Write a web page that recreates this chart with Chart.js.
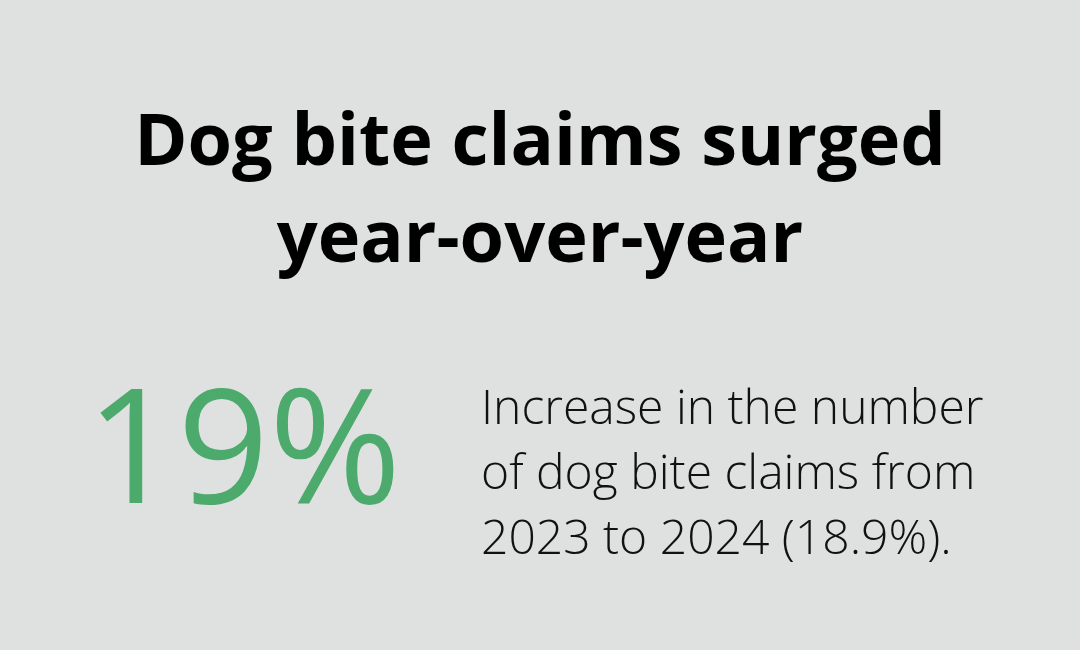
<!DOCTYPE html>
<html>
<head>
<meta charset="utf-8">
<script src="https://cdn.jsdelivr.net/npm/chart.js@4"></script>
<style>
  html, body { margin: 0; padding: 0; background: #dfe1e0; }
  #wrap { width: 1080px; height: 650px; }
</style>
</head>
<body>
<div id="wrap"><canvas id="stat"></canvas></div>
<script>
const titleLines = ['Dog bite claims surged', 'year-over-year'];
const statValue = ['19%'];
const captionLines = ['Increase in the number', 'of dog bite claims from', '2023 to 2024 (18.9%).'];

const textPlugin = {
    id: 'statText',
    afterDraw(chart) {
        const ctx = chart.ctx;
        ctx.save();
        ctx.fillStyle = '#000';
        ctx.textAlign = 'center';
        ctx.textBaseline = 'alphabetic';
        ctx.font = 'bold 72px "Open Sans"';
        titleLines.forEach((t, i) => ctx.fillText(t, 540, 165 + i * 97));

        ctx.fillStyle = '#4caa6c';
        ctx.textAlign = 'left';
        ctx.font = '400 160px "Open Sans"';
        ctx.fillText(statValue[0], 86, 503);

        ctx.fillStyle = '#111';
        ctx.font = '300 48px "Open Sans"';
        captionLines.forEach((t, i) => ctx.fillText(t, 481, 424 + i * 65));
        ctx.restore();
    }
};

new Chart(document.getElementById('stat'), {
    type: 'bar',
    data: { labels: [], datasets: [] },
    options: {
        responsive: true,
        maintainAspectRatio: false,
        animation: false,
        plugins: { legend: { display: false }, tooltip: { enabled: false } },
        scales: { x: { display: false }, y: { display: false } }
    },
    plugins: [textPlugin]
});
</script>
</body>
</html>
